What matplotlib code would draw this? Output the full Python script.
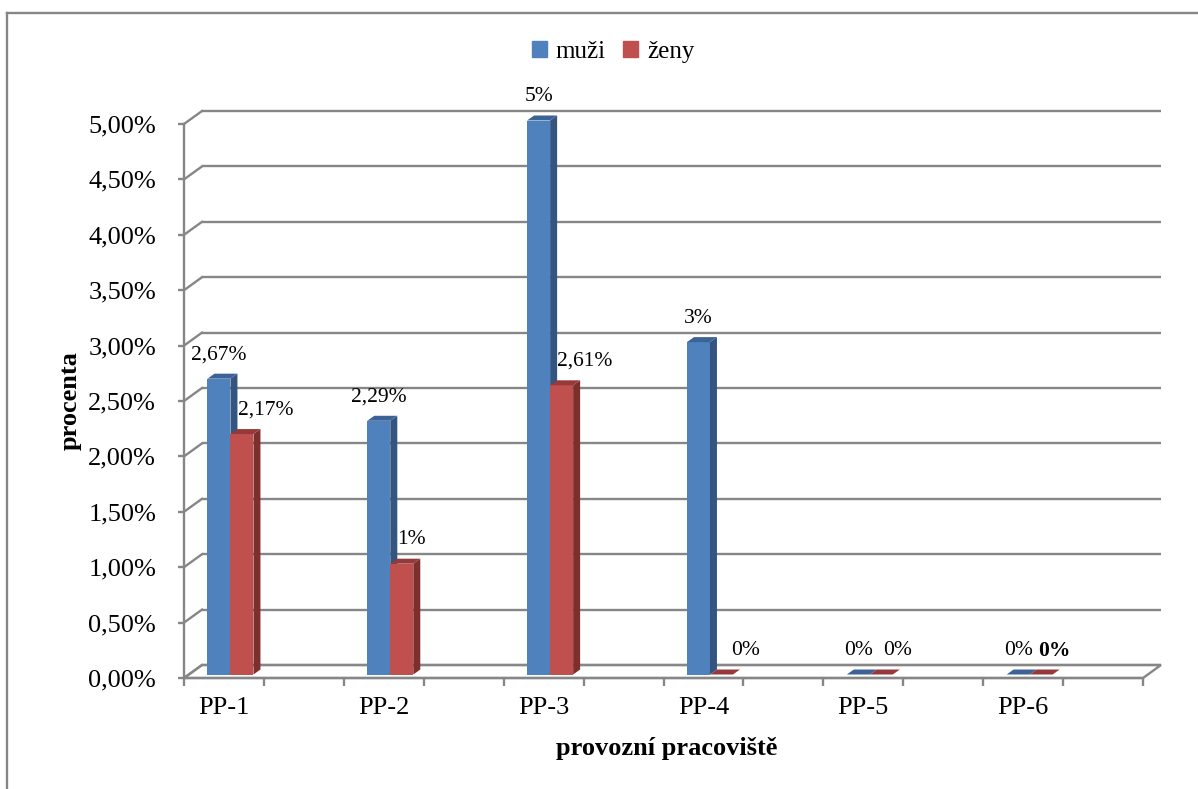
import matplotlib
matplotlib.use("Agg")
import matplotlib.pyplot as plt
from matplotlib.patches import Patch, Polygon
from matplotlib.lines import Line2D
import numpy as np

kategorie = ["PP-1", "PP-2", "PP-3", "PP-4", "PP-5", "PP-6"]
muzi = [2.67, 2.29, 5.0, 3.0, 0.0, 0.0]
zeny = [2.17, 1.0, 2.61, 0.0, 0.0, 0.0]
muzi_popisky = ["2,67%", "2,29%", "5%", "3%", "0%", "0%"]
zeny_popisky = ["2,17%", "1%", "2,61%", "0%", "0%", "0%"]
y_ticks = np.arange(0, 5.01, 0.5)

# sideways nudges (px) of the women's labels, as placed in the sheet
zeny_label_dx = [24, 10, 23, 24, 16, 13]

plt.rcParams["font.family"] = ["Liberation Serif", "DejaVu Serif"]

W, H = 1198, 789
fig = plt.figure(figsize=(W / 100, H / 100), dpi=100)
# front plane of the 3-D box
ax = fig.add_axes([184 / W, (H - 678) / H, 959 / W, 554 / H])
ax.set_xlim(-0.5, 11.5)
ax.set_ylim(0, 5)

px_x = 959 / 12.0
px_y = 554 / 5.0
# depth of the box, of the bars' plane and of one column, in data units
DX, DY = 18 / px_x, 13 / px_y
BX, BY = 6.5 / px_x, 3.5 / px_y
SX, SY = 7 / px_x, 5 / px_y
bw = 23 / px_x

grid_c = "#868686"
glw = 1.7

# floor
floor = Polygon([(-0.5, 0), (11.5, 0), (11.5 + DX, DY), (-0.5 + DX, DY)],
                closed=True, facecolor="white", edgecolor=grid_c, lw=glw,
                clip_on=False, zorder=1)
ax.add_patch(floor)

# back wall gridlines and side wall diagonals
for v in y_ticks:
    ax.plot([-0.5 + DX, 11.5 + DX], [v + DY, v + DY], color=grid_c, lw=glw,
            clip_on=False, zorder=1, solid_capstyle="butt")
    ax.plot([-0.5, -0.5 + DX], [v, v + DY], color=grid_c, lw=glw,
            clip_on=False, zorder=1)

x = np.arange(len(kategorie)) * 2.0


def column(x0, h, front, side, top, z):
    y0 = BY
    x1 = x0 + bw
    ax.bar(x0, h, width=bw, bottom=y0, align="edge", color=front,
           linewidth=0, zorder=z, clip_on=False)
    ax.add_patch(Polygon([(x1, y0), (x1 + SX, y0 + SY), (x1 + SX, y0 + h + SY),
                          (x1, y0 + h)], closed=True, facecolor=side,
                         edgecolor="none", zorder=z, clip_on=False))
    ax.add_patch(Polygon([(x0, y0 + h), (x1, y0 + h), (x1 + SX, y0 + h + SY),
                          (x0 + SX, y0 + h + SY)], closed=True, facecolor=top,
                         edgecolor="none", zorder=z, clip_on=False))


for i in range(len(kategorie)):
    xb = x[i] - bw + BX
    xr = x[i] + BX
    column(xb, muzi[i], "#4F81BD", "#34557F", "#3D6396", 3 + 2 * i)
    column(xr, zeny[i], "#C0504D", "#7D2F2D", "#96393A", 4 + 2 * i)
    ax.annotate(muzi_popisky[i], (xb + bw / 2, BY + muzi[i]),
                xytext=(0, 24 * 0.72), textcoords="offset points",
                ha="center", va="center", fontsize=15.5, zorder=20,
                annotation_clip=False)
    ax.annotate(zeny_popisky[i], (xr + bw / 2, BY + zeny[i]),
                xytext=(zeny_label_dx[i] * 0.72, 24 * 0.72),
                textcoords="offset points", ha="center", va="center",
                fontsize=15.5, zorder=20, annotation_clip=False,
                fontweight="bold" if i == len(kategorie) - 1 else "normal")

# front axes
for s in ["top", "right"]:
    ax.spines[s].set_visible(False)
for s in ["left", "bottom"]:
    ax.spines[s].set_color(grid_c)
    ax.spines[s].set_linewidth(glw)
    ax.spines[s].set_zorder(2)
ax.patch.set_visible(False)

ax.set_yticks(y_ticks)
ax.set_yticklabels([("%.2f%%" % v).replace(".", ",") for v in y_ticks])
ax.tick_params(axis="y", length=4, width=glw, color=grid_c, pad=16,
               labelsize=19)
ax.set_xticks(np.arange(-0.5, 11.6, 1.0))
ax.set_xticklabels([])
ax.tick_params(axis="x", which="major", length=6, width=glw, color=grid_c)
ax.set_xticks(x, minor=True)
ax.set_xticklabels(kategorie, minor=True)
ax.tick_params(axis="x", which="minor", length=0, pad=14, labelsize=19)

fig.text(70 / W, 1 - 401 / H, "procenta", rotation=90, ha="center",
         va="center", fontsize=19, fontweight="bold")
fig.text(667 / W, 1 - 748 / H, "provozní pracoviště", ha="center",
         va="center", fontsize=19, fontweight="bold")

handles = [Patch(color="#4F81BD", label="muži"),
           Patch(color="#C0504D", label="ženy")]
fig.legend(handles=handles, loc="center", bbox_to_anchor=(613 / W, 1 - 52 / H),
           ncol=2, frameon=False, fontsize=18, handlelength=0.6,
           handleheight=0.6, handletextpad=0.35, columnspacing=0.7)

# chart area border
fig.add_artist(Line2D([7 / W, 7 / W], [0, 1 - 13 / H], color=grid_c, lw=1.7))
fig.add_artist(Line2D([7 / W, 1], [1 - 13 / H, 1 - 13 / H], color=grid_c,
                      lw=1.7))

fig.savefig("out.png", dpi=100)
